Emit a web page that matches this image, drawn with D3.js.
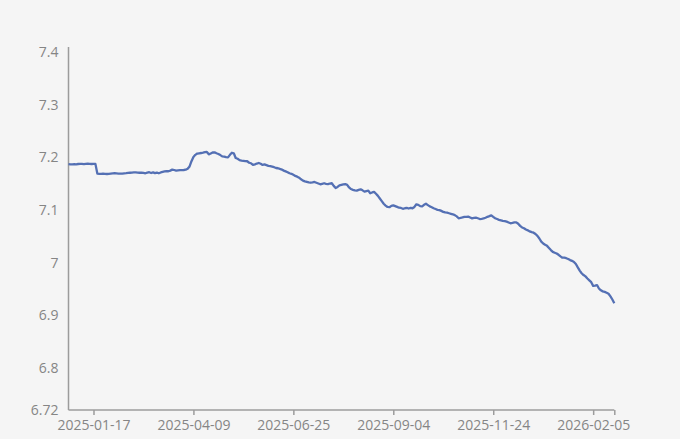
<!DOCTYPE html>
<html>
<head>
<meta charset="utf-8">
<script src="https://cdn.jsdelivr.net/npm/d3@7/dist/d3.min.js"></script>
<style>
  html, body { margin: 0; padding: 0; background: #f5f5f5; }
  svg { display: block; }
  text { font-family: "Open Sans", "Noto Sans", sans-serif; }
</style>
</head>
<body>
<svg id="chart" width="680" height="439"></svg>
<script>
// USD/CNY series, one value per trading day
const values = [
  7.1875, 7.1870, 7.1868, 7.1872, 7.1870, 7.1876, 7.1880, 7.1878, 7.1874, 7.1880,
  7.1882, 7.1878, 7.1876, 7.1880, 7.1878, 7.1695, 7.1690, 7.1688, 7.1692, 7.1690,
  7.1686, 7.1690, 7.1694, 7.1698, 7.1700, 7.1697, 7.1694, 7.1692, 7.1695, 7.1699,
  7.1702, 7.1706, 7.1710, 7.1712, 7.1715, 7.1718, 7.1714, 7.1710, 7.1712, 7.1708,
  7.1700, 7.1712, 7.1720, 7.1705, 7.1716, 7.1702, 7.1712, 7.1700, 7.1715, 7.1725,
  7.1735, 7.1742, 7.1738, 7.1750, 7.1770, 7.1762, 7.1750, 7.1755, 7.1760, 7.1758,
  7.1762, 7.1768, 7.1785, 7.1830, 7.1930, 7.2010, 7.2050, 7.2075, 7.2080, 7.2085,
  7.2092, 7.2100, 7.2105, 7.2060, 7.2075, 7.2095, 7.2098, 7.2080, 7.2065, 7.2045,
  7.2020, 7.2015, 7.2005, 7.2002, 7.2050, 7.2090, 7.2080, 7.1990, 7.1975, 7.1950,
  7.1940, 7.1935, 7.1930, 7.1928, 7.1900, 7.1890, 7.1860, 7.1870, 7.1885, 7.1895,
  7.1880, 7.1858, 7.1868, 7.1855, 7.1840, 7.1835, 7.1825, 7.1815, 7.1800, 7.1795,
  7.1782, 7.1770, 7.1750, 7.1735, 7.1720, 7.1700, 7.1690, 7.1670, 7.1650, 7.1635,
  7.1615, 7.1585, 7.1560, 7.1545, 7.1535, 7.1525, 7.1520, 7.1525, 7.1535, 7.1520,
  7.1505, 7.1490, 7.1500, 7.1510, 7.1500, 7.1492, 7.1505, 7.1510, 7.1460, 7.1420,
  7.1440, 7.1470, 7.1480, 7.1490, 7.1495, 7.1480, 7.1430, 7.1400, 7.1385, 7.1375,
  7.1370, 7.1385, 7.1395, 7.1375, 7.1350, 7.1362, 7.1370, 7.1320, 7.1335, 7.1345,
  7.1310, 7.1270, 7.1220, 7.1170, 7.1120, 7.1085, 7.1060, 7.1055, 7.1080, 7.1090,
  7.1075, 7.1060, 7.1045, 7.1040, 7.1025, 7.1035, 7.1040, 7.1030, 7.1042, 7.1035,
  7.1060, 7.1110, 7.1100, 7.1075, 7.1070, 7.1100, 7.1120, 7.1095, 7.1070, 7.1055,
  7.1035, 7.1020, 7.1005, 7.1000, 7.0985, 7.0965, 7.0955, 7.0950, 7.0940, 7.0930,
  7.0920, 7.0905, 7.0880, 7.0845, 7.0850, 7.0860, 7.0872, 7.0870, 7.0875, 7.0860,
  7.0843, 7.0850, 7.0855, 7.0845, 7.0830, 7.0835, 7.0842, 7.0855, 7.0872, 7.0885,
  7.0900, 7.0870, 7.0845, 7.0830, 7.0815, 7.0805, 7.0795, 7.0790, 7.0780, 7.0765,
  7.0750, 7.0755, 7.0765, 7.0768, 7.0740, 7.0700, 7.0670, 7.0655, 7.0630, 7.0615,
  7.0595, 7.0580, 7.0570, 7.0545, 7.0510, 7.0460, 7.0400, 7.0365, 7.0340, 7.0320,
  7.0280, 7.0240, 7.0205, 7.0190, 7.0175, 7.0150, 7.0120, 7.0095, 7.0095, 7.0085,
  7.0070, 7.0050, 7.0035, 7.0015, 6.9975, 6.9910, 6.9850, 6.9800, 6.9765, 6.9740,
  6.9700, 6.9665, 6.9630, 6.9560, 6.9565, 6.9575, 6.9510, 6.9475, 6.9455, 6.9446,
  6.9430, 6.9410, 6.9360, 6.9300, 6.9230
];

// x-axis category labels and the category index each sits on
const xTickLabels = ["2025-01-17", "2025-04-09", "2025-06-25", "2025-09-04", "2025-11-24", "2026-02-05"];
const xTickIndex = [13, 65, 117, 169, 221, 273];

// y-axis tick values and labels
const yTickValues = [6.72, 6.8, 6.9, 7.0, 7.1, 7.2, 7.3, 7.4];
const yTickLabels = ["6.72", "6.8", "6.9", "7", "7.1", "7.2", "7.3", "7.4"];
const yDomain = [6.72, 7.41];

const svg = d3.select("#chart");
const mLeft = 68.5, mRight = 614.3, mTop = 47, mBottom = 410;

const x = d3.scaleLinear().domain([0, values.length - 1]).range([mLeft, mRight]);
const y = d3.scaleLinear().domain(yDomain).range([mBottom, mTop]);

const axisColor = "#9c9c9c";
const labelColor = "#858585";

// X axis
const xAxis = d3.axisBottom(x)
  .tickValues(xTickIndex.concat([values.length - 1]))
  .tickSize(5)
  .tickFormat((d) => {
    const k = xTickIndex.indexOf(d);
    return k >= 0 ? xTickLabels[k] : "";
  });
const gx = svg.append("g").attr("transform", `translate(0,${mBottom})`).call(xAxis);
gx.select(".domain").attr("stroke", axisColor).attr("stroke-width", 1.5).attr("d", `M${mLeft},0H${mRight}`);
gx.selectAll(".tick line").attr("stroke", axisColor).attr("stroke-width", 1.5);
gx.selectAll(".tick text")
  .attr("fill", labelColor)
  .attr("font-size", "14px")
  .attr("font-family", "'Open Sans', sans-serif")
  .attr("dy", null)
  .attr("y", 20);

// Y axis
const yAxis = d3.axisLeft(y)
  .tickValues(yTickValues)
  .tickSize(0)
  .tickPadding(10)
  .tickFormat((d, i) => yTickLabels[i]);
const gy = svg.append("g").attr("transform", `translate(${mLeft},0)`).call(yAxis);
gy.select(".domain").attr("stroke", axisColor).attr("stroke-width", 1.5).attr("d", `M0,${mTop}V${mBottom}`);
gy.selectAll(".tick text")
  .attr("fill", labelColor)
  .attr("font-size", "14px")
  .attr("font-family", "'Open Sans', sans-serif");

// Line
const line = d3.line()
  .x((d, i) => x(i))
  .y((d) => y(d));

svg.append("path")
  .datum(values)
  .attr("fill", "none")
  .attr("stroke", "#5470b4")
  .attr("stroke-width", 2.3)
  .attr("stroke-linejoin", "round")
  .attr("d", line);
</script>
</body>
</html>
